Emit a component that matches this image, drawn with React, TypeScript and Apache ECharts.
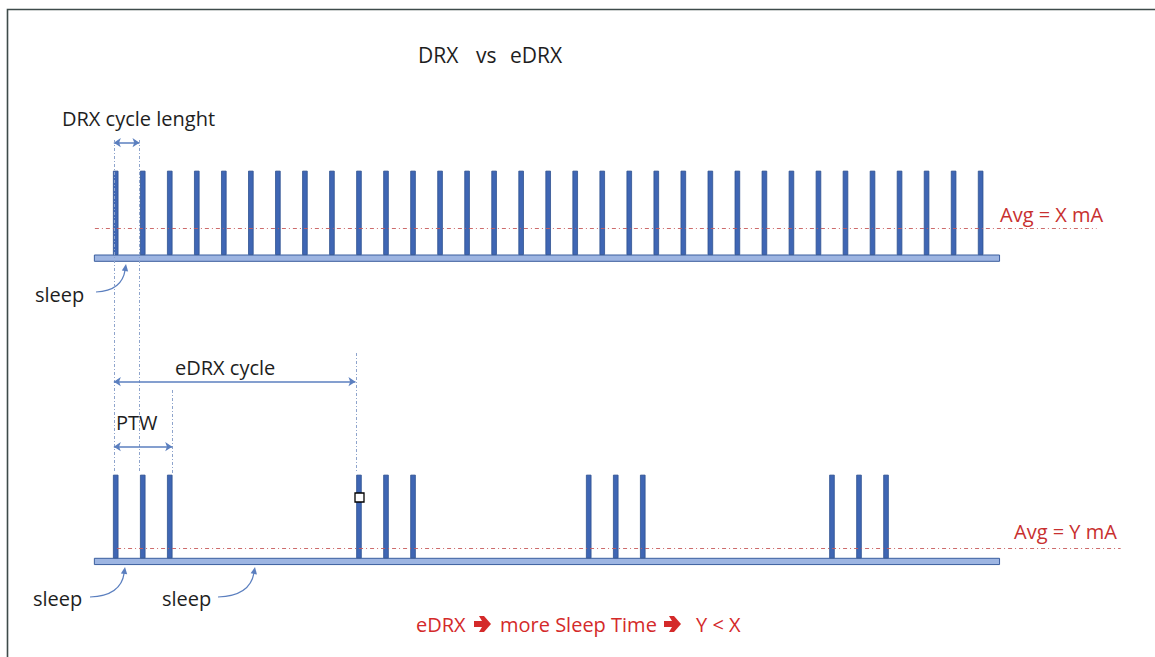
import React, { useEffect, useRef } from "react";
import * as echarts from "echarts";

// ---------- data (time in DRX cycles, current in units of peak) ----------
const drxOccasions = [0, 1, 2, 3, 4, 5, 6, 7, 8, 9, 10, 11, 12, 13, 14, 15, 16, 17, 18, 19, 20, 21, 22, 23, 24, 25, 26, 27, 28, 29, 30, 31, 32];
const edrxOccasions = [0, 1, 2, 9, 10, 11, 17.5, 18.5, 19.5, 26.5, 27.5, 28.5];
const peakCurrent = 1;
const drxAvg = 0.317;
const edrxAvg = 0.12;
const sleepLevel = -0.075;
const timelineSpan = [-0.79, 32.7];
const drxAvgSpan = [-0.77, 36.29];
const edrxAvgSpan = [0.05, 37.18];
const drxCycleMarks = [-0.07, 0.88];
const ptwMarks = [-0.07, 2.09];
const edrxCycleMarks = [-0.07, 8.9];

// ---------- layout ----------
const W = 1155;
const H = 657;
const X_MIN = -4;
const X_MAX = 38;
const TOP_BASE = 255;
const TOP_UNIT = 84.3;
const BOT_BASE = 558.3;
const BOT_UNIT = 83.6;
const FONT = "'Open Sans', 'DejaVu Sans', sans-serif";
const DARK = "#1E1E1E";
const RED = "#C8302F";
const RED2 = "#D42A2A";
const ARROW = "#5B7FBF";

const topY = (px: number) => (TOP_BASE - px) / TOP_UNIT;
const botY = (px: number) => (BOT_BASE - px) / BOT_UNIT;

const avgStyle = { color: "#C85C5C", width: 1, type: [4, 3, 1, 3], opacity: 0.9 };
const guideStyle = { color: "#8EA4CC", width: 1, type: [3, 2, 1, 2] };
const arrowStyle = { color: ARROW, width: 1.5, type: "solid" };

function text(t: string, x: number, y: number, size = 20, color = DARK) {
  return {
    type: "text",
    x,
    y,
    silent: true,
    style: {
      text: t,
      fill: color,
      fontSize: size,
      fontFamily: FONT,
      align: "left",
      verticalAlign: "middle",
      textAlign: "left",
      textVerticalAlign: "middle",
    },
  };
}

function heavyArrow(x: number, y: number, color: string) {
  // bold right-pointing arrow glyph, ~17px wide
  return {
    type: "polygon",
    silent: true,
    shape: {
      points: [
        [x, y - 3],
        [x + 8, y - 3],
        [x + 5, y - 8],
        [x + 10, y - 8],
        [x + 17, y],
        [x + 10, y + 8],
        [x + 5, y + 8],
        [x + 8, y + 3],
        [x, y + 3],
      ],
    },
    style: { fill: color },
  };
}

function curvedArrow(x1: number, y1: number, cx: number, cy: number, x2: number, y2: number) {
  const dx = x2 - cx;
  const dy = y2 - cy;
  const len = Math.hypot(dx, dy) || 1;
  const ux = dx / len;
  const uy = dy / len;
  const L = 7;
  const Wd = 3.2;
  const bx = x2 - ux * L;
  const by = y2 - uy * L;
  return [
    {
      type: "bezierCurve",
      silent: true,
      shape: { x1, y1, cpx1: cx, cpy1: cy, x2: bx + ux * 1, y2: by + uy * 1 },
      style: { stroke: ARROW, lineWidth: 1.2, fill: null },
    },
    {
      type: "polygon",
      silent: true,
      shape: {
        points: [
          [x2, y2],
          [bx - uy * Wd, by + ux * Wd],
          [bx + uy * Wd, by - ux * Wd],
        ],
      },
      style: { fill: ARROW },
    },
  ];
}

export default function App() {
  const ref = useRef<HTMLDivElement>(null);
  useEffect(() => {
    const chart = echarts.init(ref.current!, null, { renderer: "svg" });
    const xAxisBase = { type: "value", min: X_MIN, max: X_MAX, show: false, gridIndex: 0 };
    const barStyle = { color: "#3F66B4", borderColor: "#2F528F", borderWidth: 0.8 };
    const option: any = {
      animation: false,
      backgroundColor: "#ffffff",
      grid: [{ left: 7.6, right: 12.2, top: 0, bottom: 0 }],
      xAxis: [{ ...xAxisBase }, { ...xAxisBase }],
      yAxis: [
        { type: "value", gridIndex: 0, show: false, min: -(H - TOP_BASE) / TOP_UNIT, max: TOP_BASE / TOP_UNIT },
        { type: "value", gridIndex: 0, show: false, min: -(H - BOT_BASE) / BOT_UNIT, max: BOT_BASE / BOT_UNIT },
      ],
      series: [
        {
          name: "DRX",
          type: "bar",
          xAxisIndex: 0,
          yAxisIndex: 0,
          barWidth: 5.5,
          z: 3,
          silent: true,
          data: drxOccasions.map((x) => [x, peakCurrent]),
          itemStyle: barStyle,
          markArea: {
            silent: true,
            itemStyle: { color: "#9DB5E2", borderColor: "#3B5E9E", borderWidth: 1 },
            data: [[{ coord: [timelineSpan[0], 0] }, { coord: [timelineSpan[1], sleepLevel] }]],
          },
          markLine: {
            silent: true,
            symbol: "none",
            label: { show: false },
            data: [
              [
                { coord: [drxAvgSpan[0], drxAvg], lineStyle: avgStyle },
                { coord: [drxAvgSpan[1], drxAvg] },
              ],
              [
                { coord: [drxCycleMarks[0], topY(142.7)], symbol: "arrow", symbolSize: 7, lineStyle: arrowStyle },
                { coord: [drxCycleMarks[1], topY(142.7)], symbol: "arrow", symbolSize: 7 },
              ],
            ],
          },
        },
        {
          name: "eDRX",
          type: "bar",
          xAxisIndex: 1,
          yAxisIndex: 1,
          barWidth: 5.5,
          z: 3,
          silent: true,
          data: edrxOccasions.map((x) => [x, peakCurrent]),
          itemStyle: barStyle,
          markArea: {
            silent: true,
            itemStyle: { color: "#9DB5E2", borderColor: "#3B5E9E", borderWidth: 1 },
            data: [[{ coord: [timelineSpan[0], 0] }, { coord: [timelineSpan[1], sleepLevel] }]],
          },
          markLine: {
            silent: true,
            symbol: "none",
            label: { show: false },
            data: [
              [
                { coord: [edrxAvgSpan[0], edrxAvg], lineStyle: avgStyle },
                { coord: [edrxAvgSpan[1], edrxAvg] },
              ],
              [
                { coord: [drxCycleMarks[0], botY(140)], lineStyle: guideStyle },
                { coord: [drxCycleMarks[0], botY(473)] },
              ],
              [
                { coord: [drxCycleMarks[1], botY(140)], lineStyle: guideStyle },
                { coord: [drxCycleMarks[1], botY(473)] },
              ],
              [
                { coord: [ptwMarks[1], botY(390)], lineStyle: guideStyle },
                { coord: [ptwMarks[1], botY(473)] },
              ],
              [
                { coord: [edrxCycleMarks[1], botY(353)], lineStyle: guideStyle },
                { coord: [edrxCycleMarks[1], botY(473)] },
              ],
              [
                { coord: [edrxCycleMarks[0], botY(381.7)], symbol: "arrow", symbolSize: 7, lineStyle: arrowStyle },
                { coord: [edrxCycleMarks[1] - 0.03, botY(381.7)], symbol: "arrow", symbolSize: 7 },
              ],
              [
                { coord: [ptwMarks[0], botY(446.7)], symbol: "arrow", symbolSize: 7, lineStyle: arrowStyle },
                { coord: [ptwMarks[1], botY(446.7)], symbol: "arrow", symbolSize: 7 },
              ],
            ],
          },
        },
      ],
      graphic: [
        {
          type: "polyline",
          silent: true,
          shape: { points: [[7.5, H], [7.5, 9.5], [W, 9.5]] },
          style: { stroke: "#3E4B4A", lineWidth: 1.6, fill: null },
        },
        text("DRX", 418, 55, 21),
        text("vs", 476, 55, 21),
        text("eDRX", 510, 55, 21),
        text("DRX cycle lenght", 62, 118),
        text("sleep", 35, 294),
        text("eDRX cycle", 175, 367),
        text("PTW", 116, 422),
        text("sleep", 33, 598),
        text("sleep", 162, 598),
        text("Avg = X mA", 1000, 214, 20, RED),
        text("Avg = Y mA", 1014, 531, 20, RED),
        text("eDRX", 416, 624, 20, RED2),
        heavyArrow(474, 624, RED2),
        text("more Sleep Time", 500, 624, 20, RED2),
        heavyArrow(664, 624, RED2),
        text("Y < X", 696, 624, 20, RED2),
        ...curvedArrow(96, 292, 122, 291, 126, 264),
        ...curvedArrow(90, 597, 121, 596, 125, 567),
        ...curvedArrow(218, 597, 250, 596, 255, 567),
        {
          type: "rect",
          silent: true,
          z: 10,
          shape: { x: 355, y: 493, width: 9, height: 9 },
          style: { fill: "#ffffff", stroke: "#000000", lineWidth: 1.3 },
        },
      ],
    };
    chart.setOption(option);
    return () => chart.dispose();
  }, []);
  return (
    <div
      ref={ref}
      style={{ position: "absolute", left: 0, top: 0, width: W, height: H, background: "#fff" }}
    />
  );
}
